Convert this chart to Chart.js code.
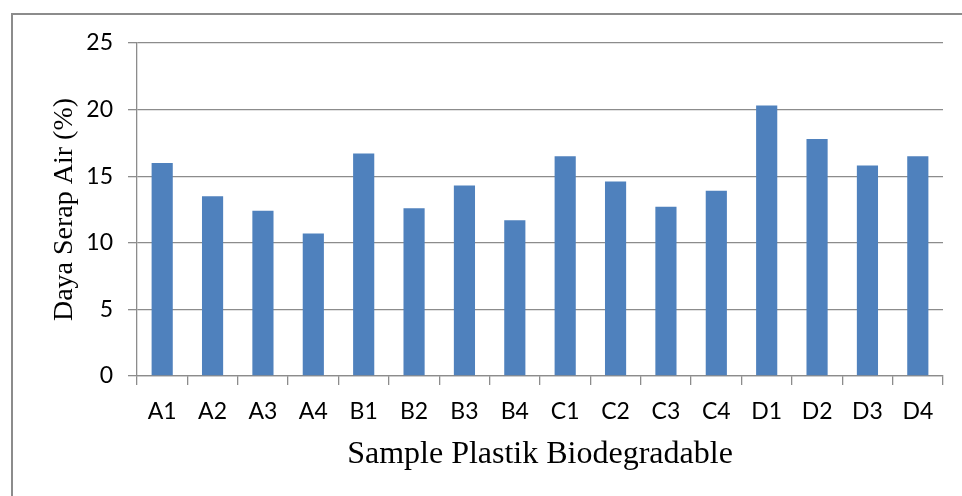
<!DOCTYPE html>
<html>
<head>
<meta charset="utf-8">
<script src="https://cdn.jsdelivr.net/npm/chart.js@4"></script>
<style>
  html, body { margin: 0; padding: 0; background: #fff; }
  #wrap { width: 962px; height: 496px; position: relative; }
</style>
</head>
<body>
<div id="wrap"><canvas id="barChart"></canvas></div>
<script>
const samples = ['A1', 'A2', 'A3', 'A4', 'B1', 'B2', 'B3', 'B4',
                 'C1', 'C2', 'C3', 'C4', 'D1', 'D2', 'D3', 'D4'];
const dayaSerap = [16.0, 13.5, 12.4, 10.7, 16.7, 12.6, 14.3, 11.7,
                   16.5, 14.6, 12.7, 13.9, 20.3, 17.8, 15.8, 16.5];
const yTicks = [0, 5, 10, 15, 20, 25];

const barChart = document.getElementById('barChart');
const gridGray = '#8c8c8c';

// frame around the whole chart
const outerFrame = {
    id: 'outerFrame',
    beforeDraw(chart) {
        const ctx = chart.ctx;
        ctx.save();
        ctx.fillStyle = '#fff';
        ctx.fillRect(0, 0, chart.width, chart.height);
        ctx.strokeStyle = gridGray;
        ctx.lineWidth = 2;
        ctx.strokeRect(12, 14, chart.width + 10, chart.height + 10);
        ctx.restore();
    }
};

new Chart(barChart, {
    type: 'bar',
    data: {
        labels: samples,
        datasets: [{
            data: dayaSerap,
            backgroundColor: '#4f81bd',
            categoryPercentage: 1,
            barPercentage: 0.42
        }]
    },
    options: {
        responsive: true,
        maintainAspectRatio: false,
        animation: false,
        layout: { padding: { top: 43, right: 19, left: 0, bottom: 0 } },
        plugins: {
            legend: { display: false },
            tooltip: { enabled: false }
        },
        scales: {
            x: {
                afterFit: s => { s.height = 120; },
                grid: { drawOnChartArea: false, color: gridGray, tickLength: 9, lineWidth: 1.3 },
                border: { color: gridGray, width: 1.3 },
                ticks: { color: '#000', font: { family: 'Lato', size: 23 }, padding: 13, maxRotation: 0 },
                title: {
                    display: true,
                    text: 'Sample Plastik Biodegradable',
                    color: '#000',
                    font: { family: 'Liberation Serif', size: 32 },
                    padding: { top: 0, bottom: 22 }
                }
            },
            y: {
                min: 0,
                max: 25,
                afterFit: s => { s.width = 137; },
                afterBuildTicks: s => { s.ticks = yTicks.map(v => ({ value: v })); },
                grid: { color: gridGray, tickLength: 9, lineWidth: 1.3 },
                border: { color: gridGray, width: 1.3 },
                ticks: { color: '#000', font: { family: 'Lato', size: 23 }, padding: 15 },
                title: {
                    display: true,
                    text: 'Daya Serap Air (%)',
                    color: '#000',
                    font: { family: 'Liberation Serif', size: 28 },
                    padding: { top: 48, bottom: 0 }
                }
            }
        }
    },
    plugins: [outerFrame]
});
</script>
</body>
</html>
